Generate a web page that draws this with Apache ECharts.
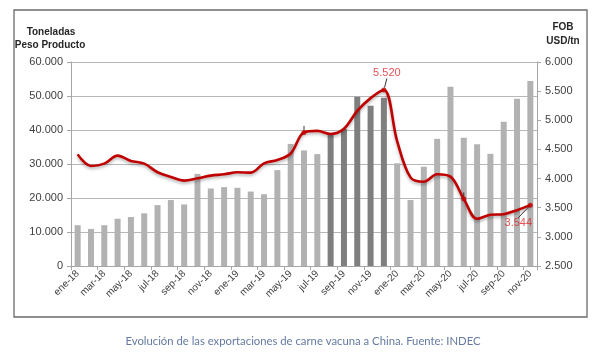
<!DOCTYPE html>
<html>
<head>
<meta charset="utf-8">
<script src="https://cdn.jsdelivr.net/npm/echarts@6/dist/echarts.min.js"></script>
<style>
html,body{margin:0;padding:0;background:#fff;}
#c{width:598px;height:355px;}
</style>
</head>
<body>
<div id="c"></div>
<script>
const categories = ['ene-18','feb-18','mar-18','abr-18','may-18','jun-18','jul-18','ago-18','sep-18','oct-18','nov-18','dic-18',
  'ene-19','feb-19','mar-19','abr-19','may-19','jun-19','jul-19','ago-19','sep-19','oct-19','nov-19','dic-19',
  'ene-20','feb-20','mar-20','abr-20','may-20','jun-20','jul-20','ago-20','sep-20','oct-20','nov-20'];
const toneladas = [12000,10900,12000,13900,14400,15500,17900,19400,18100,27100,22800,23200,
  23000,21900,21100,28200,35900,34000,32900,38700,40300,49800,47100,49500,
  30200,19400,29200,37400,52700,37700,35800,33000,42400,49200,54400];
const fobUsd = [4415,4216,4256,4393,4302,4256,4108,4028,3965,4005,4051,4073,
  4108,4102,4262,4319,4430,4792,4818,4765,4855,5160,5380,5520,
  4640,4020,3945,4073,4034,3652,3310,3378,3389,3458,3544];
const highlighted = ['ago-19','sep-19','oct-19','nov-19','dic-19'];
const markedPoints = ['jun-19','dic-19','jun-20','nov-20'];
const labeledPoints = ['dic-19','nov-20'];
const leftTicks = [0, 60000, 10000];
const rightTicks = [2500, 6000, 500];

function fmt(v){ return String(v).replace(/\B(?=(\d{3})+(?!\d))/g, '.'); }

const chart = echarts.init(document.getElementById('c'), null, {renderer:'canvas'});
const FONT = 'Liberation Sans';
const labelColor = '#404040';

const barData = toneladas.map((v,i)=>({
  value: v,
  itemStyle: {color: highlighted.includes(categories[i]) ? '#7f7f7f' : '#b2b2b2'}
}));

const scatterData = markedPoints.map(c=>{
  const i = categories.indexOf(c);
  return {value:[c, fobUsd[i]], showLabel: labeledPoints.includes(c)};
});

chart.setOption({
  animation:false,
  textStyle:{fontFamily:FONT},
  grid:{left:71, right:61, top:62, bottom:89, containLabel:false},
  graphic:[
    {type:'rect', shape:{x:14,y:10,width:573,height:307}, style:{fill:'none', stroke:'#6b6b6b', lineWidth:1.3}, silent:true},
    {type:'text', style:{text:'Toneladas', x:51, y:32, align:'center', verticalAlign:'middle', font:'bold 10px "Liberation Sans"', fill:'#262626'}},
    {type:'text', style:{text:'Peso Producto', x:50, y:45, align:'center', verticalAlign:'middle', font:'bold 10px "Liberation Sans"', fill:'#262626'}},
    {type:'text', style:{text:'FOB', x:563, y:27, align:'center', verticalAlign:'middle', font:'bold 10px "Liberation Sans"', fill:'#262626'}},
    {type:'text', style:{text:'USD/tn', x:563, y:41, align:'center', verticalAlign:'middle', font:'bold 10px "Liberation Sans"', fill:'#262626'}},
    {type:'text', style:{text:'Evolución de las exportaciones de carne vacuna a China. Fuente: INDEC', x:303, y:341, align:'center', verticalAlign:'middle', font:'11.3px Lato', fill:'#647aa0'}}
  ],
  xAxis:{
    type:'category', data:categories, boundaryGap:true,
    axisLine:{lineStyle:{color:'#a6a6a6'}},
    axisTick:{show:true, interval:1, length:4, lineStyle:{color:'#a6a6a6'}},
    axisLabel:{interval:1, rotate:45, fontSize:10, color:labelColor, margin:6}
  },
  yAxis:[
    {type:'value', min:leftTicks[0], max:leftTicks[1], interval:leftTicks[2], position:'left',
     axisLine:{show:true, lineStyle:{color:'#a6a6a6'}},
     axisTick:{show:true, length:4, lineStyle:{color:'#a6a6a6'}},
     splitLine:{show:true, lineStyle:{color:'#b7b7b7', width:1}},
     axisLabel:{formatter:v=>fmt(v), fontSize:11, color:labelColor, margin:8}},
    {type:'value', min:rightTicks[0], max:rightTicks[1], interval:rightTicks[2], position:'right',
     axisLine:{show:true, lineStyle:{color:'#a6a6a6'}},
     axisTick:{show:true, length:4, lineStyle:{color:'#a6a6a6'}},
     splitLine:{show:false},
     axisLabel:{formatter:v=>fmt(v), fontSize:11, color:labelColor, margin:8}}
  ],
  series:[
    {type:'bar', data:barData, barWidth:6, yAxisIndex:0},
    {type:'line', data:fobUsd, yAxisIndex:1, smooth:0.35, symbol:'none',
     lineStyle:{color:'#c00000', width:2.6, shadowColor:'rgba(0,0,0,0.3)', shadowBlur:3, shadowOffsetY:2},
     z:3},
    {type:'scatter', yAxisIndex:1, data:scatterData, symbol:'circle', symbolSize:5,
     itemStyle:{color:'#c00000'}, z:4,
     label:{show:true, position:'top', distance:4, fontSize:11, color:'#e0282a',
       formatter:p=> p.data.showLabel ? fmt(p.data.value[1]) : ''},
     labelLayout:function(p){
       const i = p.dataIndex;
       if (markedPoints[i]==='dic-19') return {dx:3, dy:-5};
       if (markedPoints[i]==='nov-20') return {dx:-12, dy:30};
       return {};
     },
     labelLine:{show:true, lineStyle:{color:'#333', width:1}}
    }
  ]
});
</script>
</body>
</html>
